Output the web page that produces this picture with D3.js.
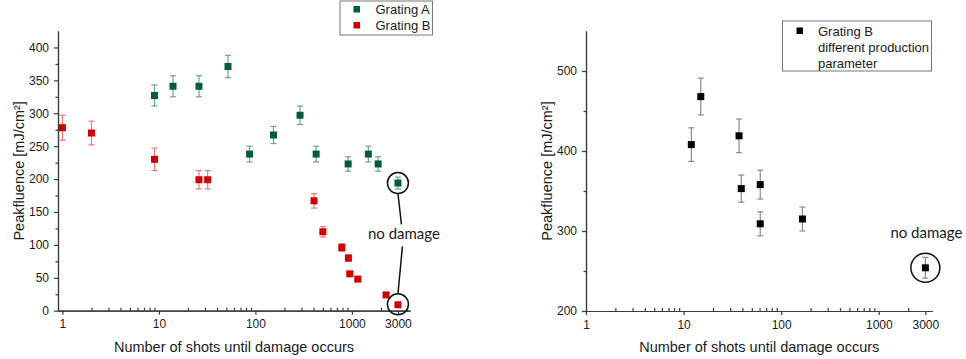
<!DOCTYPE html>
<html>
<head>
<meta charset="utf-8">
<script src="https://cdn.jsdelivr.net/npm/d3@7"></script>
<style>
  body { margin: 0; background: #fff; }
  text { font-family: "Liberation Sans", Arial, sans-serif; fill: #1a1a1a; }
  .axis path, .axis line { stroke: #3a3a3a; stroke-width: 1.2; }
  .axis text { font-size: 12px; }
</style>
</head>
<body>
<svg width="966" height="359"></svg>
<script>
// data
const gratingA_shots = [9, 14, 26, 52, 87, 154, 290, 426, 914, 1480, 1870, 3000];
const gratingA_fluence = [327, 341, 341, 371, 238, 267, 297, 238, 223, 238, 223, 194];
const gratingA_err = [16, 16, 16, 17, 12, 13, 14, 12, 11, 12, 11, 9];

const gratingB_shots = [1, 2, 9, 26, 32, 405, 500, 786, 920, 950, 1150, 2260, 3000];
const gratingB_fluence = [278, 270, 230, 199, 199, 167, 120, 96, 80, 56, 48, 24, 9];
const gratingB_err = [19, 18, 17, 14, 14, 11, 8, 6, 5, 3, 2, 2, 2];

const gratingB2_shots = [12, 15, 37, 39, 61, 61, 165, 3000];
const gratingB2_fluence = [408, 468, 419, 353, 358, 309, 315, 254];
const gratingB2_err = [21, 23, 21, 17, 18, 15, 15, 13];

const xMajorTicks = [1, 10, 100, 1000, 3000];
const xMinorTicks = [2, 3, 4, 5, 6, 7, 8, 9, 20, 30, 40, 50, 60, 70, 80, 90,
  200, 300, 400, 500, 600, 700, 800, 900, 2000];
const yLeftMajor = [0, 50, 100, 150, 200, 250, 300, 350, 400];
const yLeftMinor = [25, 75, 125, 175, 225, 275, 325, 375];
const yRightMajor = [200, 300, 400, 500];
const yRightMinor = [250, 350, 450];

const svg = d3.select("svg");

// join shots/fluence/err into point records
const zipSeries = (xs, ys, es) => xs.map((x, i) => ({x: x, y: ys[i], e: es[i]}));

// draw one panel's axes
function drawAxes(x, y, yMajor, yMinor) {
  const x0 = x.range()[0], y0 = y.range()[0];

  // minor ticks first so the major ones sit on top
  svg.append("g").attr("class", "axis")
    .attr("transform", `translate(0,${y0})`)
    .call(d3.axisBottom(x).tickValues(xMinorTicks).tickSize(-3).tickSizeOuter(0).tickFormat(""));
  svg.append("g").attr("class", "axis")
    .attr("transform", `translate(${x0},0)`)
    .call(d3.axisLeft(y).tickValues(yMinor).tickSize(2.5).tickSizeOuter(0).tickFormat(""));

  svg.append("g").attr("class", "axis")
    .attr("transform", `translate(0,${y0})`)
    .call(d3.axisBottom(x).tickValues(xMajorTicks).tickSize(4).tickSizeOuter(0)
      .tickPadding(5).tickFormat(d3.format("d")));
  svg.append("g").attr("class", "axis")
    .attr("transform", `translate(${x0},0)`)
    .call(d3.axisLeft(y).tickValues(yMajor).tickSize(4).tickSizeOuter(0).tickPadding(5));

  const xMid = (x.range()[0] + x.range()[1]) / 2;
  const yMid = (y.range()[0] + y.range()[1]) / 2;
  svg.append("text")
    .attr("x", xMid).attr("y", 351.5)
    .attr("text-anchor", "middle")
    .style("font-size", "14.5px")
    .text("Number of shots until damage occurs");
  svg.append("text")
    .attr("transform", `translate(${x0 - 34},${yMid}) rotate(-90)`)
    .attr("text-anchor", "middle")
    .style("font-size", "14.5px")
    .text("Peakfluence [mJ/cm²]");
}

// error bars + square markers
function drawSeries(x, y, pts, color, errColor) {
  const g = svg.append("g");
  const bars = g.selectAll(".err").data(pts).enter().append("g")
    .attr("stroke", errColor).attr("stroke-width", 1.2);
  bars.append("line")
    .attr("x1", d => x(d.x)).attr("x2", d => x(d.x))
    .attr("y1", d => y(d.y - d.e)).attr("y2", d => y(d.y + d.e));
  bars.append("line")
    .attr("x1", d => x(d.x) - 3).attr("x2", d => x(d.x) + 3)
    .attr("y1", d => y(d.y + d.e)).attr("y2", d => y(d.y + d.e));
  bars.append("line")
    .attr("x1", d => x(d.x) - 3).attr("x2", d => x(d.x) + 3)
    .attr("y1", d => y(d.y - d.e)).attr("y2", d => y(d.y - d.e));
  g.selectAll("rect").data(pts).enter().append("rect")
    .attr("x", d => x(d.x) - 3.5).attr("y", d => y(d.y) - 3.5)
    .attr("width", 7).attr("height", 7)
    .attr("fill", color);
}

// ---------- left panel ----------
const xL = d3.scaleLog().domain([0.9, 4000]).range([58, 410]);
const yL = d3.scaleLinear().domain([0, 425]).range([310.7, 31]);
drawAxes(xL, yL, yLeftMajor, yLeftMinor);

const green = "#005e3b", red = "#d10000";
drawSeries(xL, yL, zipSeries(gratingA_shots, gratingA_fluence, gratingA_err), green, "#6ea391");
drawSeries(xL, yL, zipSeries(gratingB_shots, gratingB_fluence, gratingB_err), red, "#eb7b7b");

// annotation: circles round the 3000-shot points, joined to the label
const rL = 10.5;
const cx = xL(3000);
const labelY = yL(116);
svg.append("circle").attr("cx", cx).attr("cy", yL(194)).attr("r", rL)
  .attr("fill", "none").attr("stroke", "#111").attr("stroke-width", 1.5);
svg.append("circle").attr("cx", cx).attr("cy", yL(9) - 0.5).attr("r", rL)
  .attr("fill", "none").attr("stroke", "#111").attr("stroke-width", 1.5);
svg.append("line")
  .attr("x1", cx).attr("y1", yL(194) + rL)
  .attr("x2", cx + 3.5).attr("y2", labelY - 10)
  .attr("stroke", "#111").attr("stroke-width", 1.5);
svg.append("line")
  .attr("x1", cx + 4.5).attr("y1", labelY + 12)
  .attr("x2", cx).attr("y2", yL(9) - 0.5 - rL)
  .attr("stroke", "#111").attr("stroke-width", 1.5);
svg.append("text")
  .attr("x", cx + 6).attr("y", labelY + 5)
  .attr("text-anchor", "middle")
  .style("font-family", "Lato, 'Open Sans', sans-serif")
  .style("font-size", "15px")
  .text("no damage");

// legend left
const legL = svg.append("g").attr("transform", "translate(340,1)");
legL.append("rect").attr("width", 92.5).attr("height", 34)
  .attr("fill", "#fff").attr("stroke", "#777");
[["Grating A", green], ["Grating B", red]].forEach(([name, c], i) => {
  legL.append("rect").attr("x", 13.5).attr("y", 5 + i * 16).attr("width", 6.5).attr("height", 6.5).attr("fill", c);
  legL.append("text").attr("x", 35.5).attr("y", 13 + i * 16).style("font-size", "13px").text(name);
});

// ---------- right panel ----------
const xR = d3.scaleLog().domain([1, 3550]).range([586, 932.5]);
const yR = d3.scaleLinear().domain([200, 550]).range([311, 31]);
drawAxes(xR, yR, yRightMajor, yRightMinor);
drawSeries(xR, yR, zipSeries(gratingB2_shots, gratingB2_fluence, gratingB2_err), "#000", "#8a8a8a");

svg.append("circle").attr("cx", xR(3000)).attr("cy", yR(254)).attr("r", 14.5)
  .attr("fill", "none").attr("stroke", "#111").attr("stroke-width", 1.5);
svg.append("text")
  .attr("x", xR(3000) + 1).attr("y", yR(297) + 5)
  .attr("text-anchor", "middle")
  .style("font-family", "Lato, 'Open Sans', sans-serif")
  .style("font-size", "15px")
  .text("no damage");

// legend right
const legR = svg.append("g").attr("transform", "translate(782.5,21)");
legR.append("rect").attr("width", 149).attr("height", 50)
  .attr("fill", "#fff").attr("stroke", "#777");
legR.append("rect").attr("x", 14).attr("y", 6.5).attr("width", 6.5).attr("height", 6.5).attr("fill", "#000");
["Grating B", "different production", "parameter"].forEach((t, i) => {
  legR.append("text").attr("x", 35.5).attr("y", 14.5 + i * 16).style("font-size", "13px").text(t);
});
</script>
</body>
</html>
